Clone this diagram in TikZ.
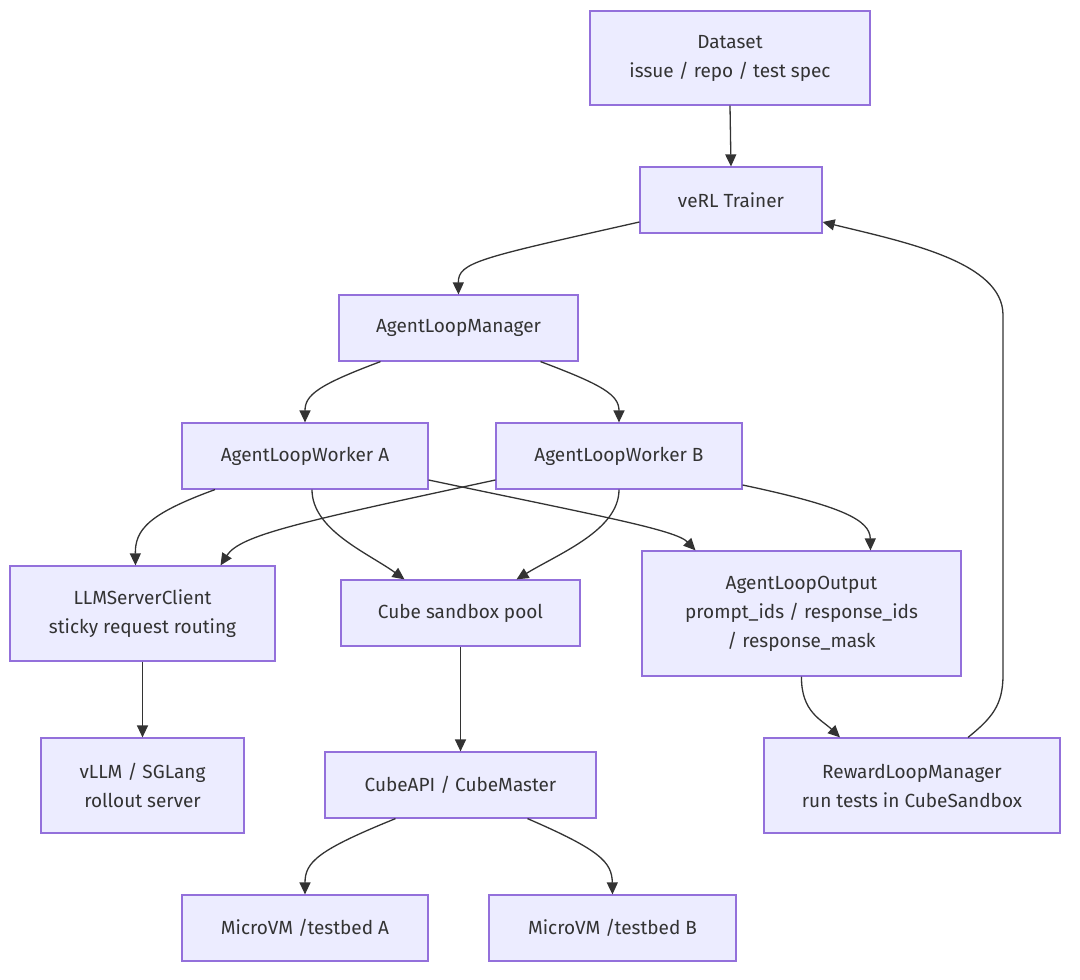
\documentclass[tikz,border=0pt]{standalone}
\usepackage{fontspec}
\setmainfont{Fira Sans}
\usetikzlibrary{arrows.meta}
\definecolor{nfill}{HTML}{ECECFF}
\definecolor{nborder}{HTML}{9370DB}
\definecolor{edge}{HTML}{333333}
\tikzset{
  box/.style={draw=nborder, fill=nfill, line width=1.2pt, inner sep=0pt, align=center,
    text=edge, font=\fontsize{19}{29}\selectfont},
  conn/.style={draw=edge, line width=1.3pt, -{Triangle[length=12pt,width=11pt]}},
}
\begin{document}
\begin{tikzpicture}[x=1pt, y=-1pt]
\useasboundingbox[fill=white] (0,0) rectangle (1080,980);
% nodes (centre, size)
\node[box, minimum width=280pt, minimum height=94pt] (ds) at (730,58) {Dataset\\issue / repo / test spec};
\node[box, minimum width=182pt, minimum height=66pt] (vt) at (731,200) {veRL Trainer};
\node[box, minimum width=239pt, minimum height=66pt] (alm) at (458.5,328) {AgentLoopManager};
\node[box, minimum width=246pt, minimum height=66pt] (wa) at (305,456) {AgentLoopWorker A};
\node[box, minimum width=246pt, minimum height=66pt] (wb) at (619,456) {AgentLoopWorker B};
\node[box, minimum width=265pt, minimum height=95pt] (llm) at (142.5,613.5) {LLMServerClient\\sticky request routing};
\node[box, minimum width=239pt, minimum height=66pt] (cube) at (460.5,613) {Cube sandbox pool};
\node[box, minimum width=319pt, minimum height=125pt] (out) at (801.5,613.5) {AgentLoopOutput\\prompt\_ids / response\_ids\\/ response\_mask};
\node[box, minimum width=203pt, minimum height=95pt] (vllm) at (142.5,785.5) {vLLM / SGLang\\rollout server};
\node[box, minimum width=271pt, minimum height=66pt] (api) at (460.5,785) {CubeAPI / CubeMaster};
\node[box, minimum width=296pt, minimum height=95pt] (rlm) at (912,785.5) {RewardLoopManager\\run tests in CubeSandbox};
\node[box, minimum width=246pt, minimum height=66pt] (ma) at (305,928) {MicroVM /testbed A};
\node[box, minimum width=247pt, minimum height=66pt] (mb) at (612.5,928) {MicroVM /testbed B};
% connectors
\draw[conn] (ds.south) -- (vt.north);
\draw[conn] ([yshift=-22pt]vt.west) .. controls (480,258) and (458,262) .. (alm.north);
\draw[conn] ([xshift=-78pt]alm.south) .. controls (318,385) and (305,395) .. (wa.north);
\draw[conn] ([xshift=82pt]alm.south) .. controls (603,385) and (619,395) .. (wb.north);
\draw[conn] ([xshift=-90pt]wa.south) .. controls (148,514) and (135,530) .. ([xshift=-7pt]llm.north);
\draw[conn] ([xshift=7pt]wa.south) .. controls (312,530) and (368,553) .. ([xshift=-56pt]cube.north);
\draw[conn] ([yshift=-24pt]wa.east) .. controls (600,516) and (676,530) .. ([xshift=-106pt]out.north);
\draw[conn] ([yshift=-24pt]wb.west) .. controls (300,522) and (240,535) .. ([xshift=78pt]llm.north);
\draw[conn] (wb.south) .. controls (619,530) and (560,553) .. ([xshift=56pt]cube.north);
\draw[conn] ([yshift=-29pt]wb.east) .. controls (842,506) and (870,520) .. ([xshift=69pt]out.north);
\draw[conn] (llm.south) -- (vllm.north);
\draw[conn] (cube.south) -- (api.north);
\draw[conn] (out.south) .. controls (801,712) and (822,720) .. ([xshift=-72pt]rlm.north);
\draw[conn] ([xshift=56pt]rlm.north) .. controls (992,718) and (1003,705) .. (1003,675)
  -- (1003,315) .. controls (1003,262) and (905,242) .. ([yshift=-22pt]vt.east);
\draw[conn] ([xshift=-65pt]api.south) .. controls (318,850) and (305,862) .. (ma.north);
\draw[conn] ([xshift=67pt]api.south) .. controls (600,850) and (612,862) .. (mb.north);
\end{tikzpicture}
\end{document}
